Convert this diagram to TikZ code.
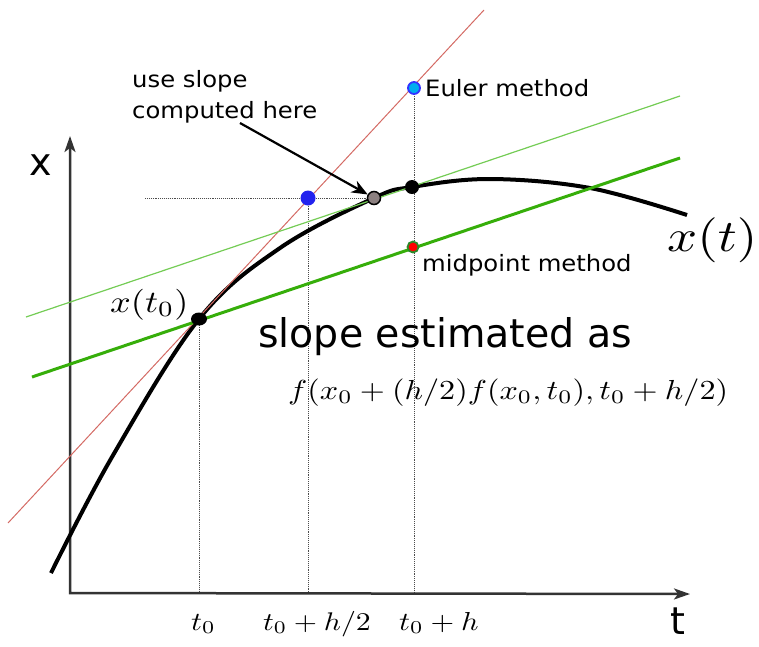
\documentclass[tikz,border=0pt]{standalone}
\usepackage{fontspec}
\newfontfamily\dv{DejaVu Sans}
\usetikzlibrary{arrows.meta,shapes.geometric}
\definecolor{redln}{HTML}{D46A64}
\definecolor{thingreen}{HTML}{74CC55}
\definecolor{thickgreen}{HTML}{36AE0A}
\definecolor{axisgray}{HTML}{333333}
\definecolor{dotgray}{HTML}{8C8080}
\definecolor{dotblue}{HTML}{2222EE}
\definecolor{edgeblue}{HTML}{3333FF}
\definecolor{edgegreen}{HTML}{2A8A2A}
\newcommand{\mlab}[2]{\scalebox{\fpeval{1.17*#1/10}}[\fpeval{#1/10}]{#2}}
\newcommand{\slab}[1]{\scalebox{1.08}[1]{#1}}
\begin{document}
\begin{tikzpicture}[x=1pt,y=-1pt,
  dotnode/.style={ellipse,inner sep=0pt,minimum width=#1,minimum height=#1},
  dotline/.style={densely dotted,line width=0.9pt,black!70},
  axisline/.style={line width=2.5pt,axisgray},
  sanslabel/.style={anchor=base west,inner sep=0pt,font=\dv\fontsize{22.5}{31}\selectfont},
  bigsans/.style={anchor=base west,inner sep=0pt,font=\dv\fontsize{39.5}{46}\selectfont},
  axislabel/.style={anchor=base west,inner sep=0pt,font=\dv\fontsize{38}{46}\selectfont},
  mathlabel/.style={anchor=base west,inner sep=0pt,font=\fontsize{10}{12}\selectfont}
]
\useasboundingbox (0,0) rectangle (759,646);

% coordinates
\coordinate (O) at (70,593);
\coordinate (ytip) at (70,136);
\coordinate (xtip) at (690,594);
\coordinate (redA) at (8,523);
\coordinate (redB) at (484,10);
\coordinate (tgA) at (26,317);
\coordinate (tgB) at (680,96);
\coordinate (kgA) at (32,377);
\coordinate (kgB) at (680,158);
\coordinate (hdot) at (145,198);

% dot positions
\coordinate (P0) at (199,319);
\coordinate (PM) at (374,198);
\coordinate (PH) at (412,187);
\coordinate (PB) at (308,198);
\coordinate (PE) at (414,88);
\coordinate (PR) at (413,247);

% dotted guide lines
\draw[dotline] (P0) -- (P0 |- O);
\draw[dotline] (PB) -- (PB |- O);
\draw[dotline] (PE) -- (PE |- O);
\draw[dotline] (hdot) -- (PM);

% axes
\draw[axisline,{Stealth[length=16pt,width=11pt,inset=4pt]}-{Stealth[length=16pt,width=11pt,inset=4pt]}] (ytip) -- (O) -- (xtip);

% curve x(t)
\draw[line width=4pt,black] plot[smooth,tension=0.6] coordinates
  {(51,573) (112,457) (199,319) (280,248) (374,198) (412,187) (490,179) (590,188) (687,215)};

% lines
\draw[redln,line width=1pt] (redA) -- (redB);
\draw[thingreen,line width=1.2pt] (tgA) -- (tgB);
\draw[thickgreen,line width=3pt] (kgA) -- (kgB);

% dots
\node[dotnode=13pt,minimum width=16pt,fill=black] (d0) at (P0) {};
\node[dotnode=13pt,fill=dotgray,draw=black,line width=1.5pt] (dm) at (PM) {};
\node[dotnode=14pt,fill=black] (dh) at (PH) {};
\node[dotnode=15pt,fill=dotblue] (db) at (PB) {};
\node[dotnode=12pt,fill=cyan,draw=edgeblue,line width=1.8pt] (de) at (PE) {};
\node[dotnode=11pt,fill=red,draw=edgegreen,line width=1.8pt] (dr) at (PR) {};

% annotation arrow
\node[sanslabel] (note) at (132,87) {\slab{\begin{tabular}[t]{@{}l@{}}use slope\\computed here\end{tabular}}};
\coordinate (arrS) at (240,123);
\draw[line width=2.2pt,-{Stealth[length=16pt,width=13pt,inset=5pt]}] (arrS) -- (dm);

% texts
\node[sanslabel] (euler) at (425,96) {\slab{Euler method}};
\node[sanslabel] (midp) at (422,271) {\slab{midpoint method}};
\node[bigsans] (slope) at (258,347) {slope estimated as};
\node[mathlabel] (formula) at (288,399) {\mlab{27.5}{$f(x_0+(h/2)f(x_0,t_0),t_0+h/2)$}};
\node[mathlabel] (xt) at (667,251) {\mlab{45}{$x(t)$}};
\node[mathlabel] (xt0) at (110,312) {\mlab{31}{$x(t_0)$}};
\node[mathlabel] (tk0) at (191,630) {\mlab{26}{$t_0$}};
\node[mathlabel] (tk1) at (263,630) {\mlab{25.5}{$t_0+h/2$}};
\node[mathlabel] (tk2) at (399,630) {\mlab{26}{$t_0+h$}};
\node[axislabel] (xl) at (29,175) {x};
\node[axislabel] (tl) at (670,634) {t};
\end{tikzpicture}
\end{document}
